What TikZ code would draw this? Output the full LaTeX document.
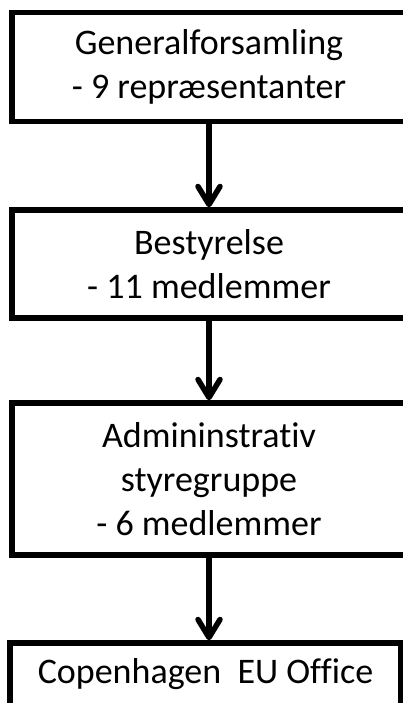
\documentclass[tikz,border=0pt]{standalone}
\usepackage{fontspec}
\setmainfont[Ligatures=CommonOff]{Carlito}
\usetikzlibrary{arrows.meta}
\begin{document}
\begin{tikzpicture}[x=1pt,y=-1pt,
  box/.style={draw=black, line width=5.5pt, rectangle, align=center, inner sep=0pt,
    font=\fontsize{36}{44}\selectfont},
  conn/.style={line width=5.5pt, -{Straight Barb[length=18pt,width=22pt,round]}}]
\useasboundingbox (0,0) rectangle (403,703);
\clip (0,0) rectangle (403,703);
\node[box, minimum width=394pt, minimum height=109pt] (gf) at (209,67)
  {Generalforsamling\\- 9 repræsentanter};
\node[box, minimum width=394pt, minimum height=108pt] (bs) at (209,264)
  {Bestyrelse\\- 11 medlemmer};
\node[box, minimum width=394pt, minimum height=152pt] (adm) at (209,479)
  {Admininstrativ\\styregruppe\\- 6 medlemmer};
\node[box, minimum width=391pt, minimum height=95pt, text height=25pt, text depth=40pt, inner ysep=15pt]
  (cph) at (205.5,690.5) {Copenhagen~ EU Office};
\draw[conn] (gf.south) -- (gf.south |- bs.north);
\draw[conn] (bs.south) -- (bs.south |- adm.north);
\draw[conn] (adm.south) -- (adm.south |- cph.north);
\end{tikzpicture}
\end{document}
